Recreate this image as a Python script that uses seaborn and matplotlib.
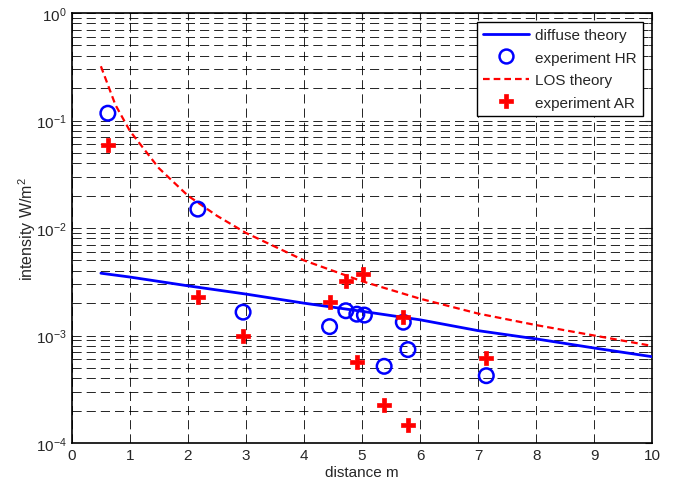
import numpy as np
import pandas as pd
import matplotlib
matplotlib.use('Agg')
import matplotlib.pyplot as plt
import seaborn as sns
from matplotlib.lines import Line2D

# diffuse theory curve
diff_x = [0.5, 1, 2, 3, 4, 5, 6, 7, 8, 9, 10]
diff_y = [0.0038, 0.0035, 0.0029, 0.00243, 0.0020, 0.00168, 0.0014, 0.00111, 0.00093, 0.000765, 0.000635]

# LOS theory curve
los_x = [0.5, 0.75, 1, 1.5, 2, 2.5, 3, 4, 5, 6, 7, 8, 9, 10]
los_y = [0.32, 0.14, 0.08, 0.036, 0.02, 0.013, 0.009, 0.005, 0.0032, 0.0022, 0.0016, 0.00125, 0.001, 0.0008]

# experiment HR (circles)
hr_x = [0.62, 2.17, 2.95, 4.44, 4.72, 4.91, 5.04, 5.71, 5.79, 5.38, 7.14]
hr_y = [0.117, 0.015, 0.00165, 0.00121, 0.0017, 0.00158, 0.00155, 0.00133, 0.00074, 0.000517, 0.000423]

# experiment AR (crosses)
ar_x = [0.62, 2.17, 2.95, 4.44, 4.72, 5.02, 5.71, 4.91, 7.14, 5.38, 5.79]
ar_y = [0.0596, 0.00226, 0.00099, 0.00203, 0.00323, 0.00373, 0.00148, 0.000563, 0.000614, 0.000226, 0.000147]

sns.set_style('white')
plt.rcParams['font.family'] = ['Liberation Sans', 'DejaVu Sans']
plt.rcParams['mathtext.fontset'] = 'custom'
plt.rcParams['mathtext.rm'] = 'Liberation Sans'
plt.rcParams['mathtext.it'] = 'Liberation Sans'

fig = plt.figure(figsize=(6.91, 4.85), dpi=100)
ax = fig.add_axes([0.104, 0.0845, 0.84, 0.8865])

df_diff = pd.DataFrame({'x': diff_x, 'y': diff_y})
df_los = pd.DataFrame({'x': los_x, 'y': los_y})
df_hr = pd.DataFrame({'x': hr_x, 'y': hr_y})
df_ar = pd.DataFrame({'x': ar_x, 'y': ar_y})

sns.lineplot(data=df_diff, x='x', y='y', ax=ax, color='#0000ff', lw=2, legend=False, zorder=3)
sns.lineplot(data=df_los, x='x', y='y', ax=ax, color='#ff0000', lw=1.6, legend=False, zorder=3)
ax.lines[-1].set_linestyle((0, (3, 1.8)))
sns.scatterplot(data=df_hr, x='x', y='y', ax=ax, marker='o', s=110, facecolor='none',
                edgecolor='#0000ff', linewidth=1.8, legend=False, zorder=4)
sns.scatterplot(data=df_ar, x='x', y='y', ax=ax, marker='P', s=110, color='#ff0000',
                edgecolor='#ff0000', linewidth=0.5, legend=False, zorder=4)

ax.set_yscale('log')
ax.set_xlim(0, 10)
ax.set_ylim(1e-4, 1)
ax.set_xticks(range(0, 11))
ax.set_yticks([1e-4, 1e-3, 1e-2, 1e-1, 1])
ax.set_yticklabels(['$10^{-4}$', '$10^{-3}$', '$10^{-2}$', '$10^{-1}$', '$10^{0}$'])

grid_ls = (0, (11, 6))
ax.grid(True, which='major', axis='both', color='k', lw=0.6, linestyle=grid_ls)
ax.grid(True, which='minor', axis='y', color='k', lw=0.6, linestyle=grid_ls)
ax.tick_params(which='both', direction='in', top=True, right=True, labelsize=11, length=5)
ax.tick_params(which='minor', length=3)
for s in ax.spines.values():
    s.set_color('k')
    s.set_linewidth(1.2)

ax.set_xlabel('distance m', fontsize=11, labelpad=2)
ax.set_ylabel('intensity W/m$^2$', fontsize=11.5)
ax.yaxis.set_label_coords(-0.058, 0.5)

handles = [
    Line2D([], [], color='#0000ff', lw=2),
    Line2D([], [], color='#0000ff', marker='o', ls='none', markersize=10, mfc='none', mew=1.8),
    Line2D([], [], color='#ff0000', lw=1.6, ls=(0, (3, 1.8))),
    Line2D([], [], color='#ff0000', marker='P', ls='none', markersize=10, mew=0.5),
]
labels = ['diffuse theory', 'experiment HR', 'LOS theory', 'experiment AR']
leg = ax.legend(handles, labels, loc='upper right', fontsize=11, fancybox=False,
                framealpha=1, edgecolor='k', borderaxespad=0.6, handlelength=3.0,
                handletextpad=0.4, labelspacing=0.55, borderpad=0.4)
leg.get_frame().set_linewidth(1.0)

fig.savefig('out.png', dpi=100)
